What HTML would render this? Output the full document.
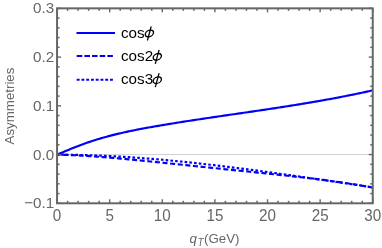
<!DOCTYPE html><html><head><meta charset="utf-8"><style>html,body{margin:0;padding:0;background:#fff;width:382px;height:248px;overflow:hidden}</style></head><body><svg width="382" height="248" viewBox="0 0 382 248" style="display:block;position:absolute;left:0;top:0;will-change:transform"><defs><clipPath id="c"><rect x="57.05" y="8.35" width="315.70" height="194.95"/></clipPath><g id="phi" fill="none" stroke="#000"><ellipse cx="0" cy="0" rx="3.95" ry="3.35" stroke-width="1.35" transform="skewX(-18)"/><line x1="1.8" y1="-7.0" x2="-2.0" y2="7.0" stroke-width="1.25"/></g></defs><rect width="382" height="248" fill="#fff"/><line x1="57.05" y1="154.56" x2="372.75" y2="154.56" stroke="#d0d0d0" stroke-width="1"/><g fill="none" stroke="#0000fa" stroke-width="2.15" clip-path="url(#c)"><path d="M57.05,154.64 L59.04,153.82 L61.02,153.00 L63.01,152.17 L64.99,151.33 L66.98,150.50 L68.96,149.67 L70.95,148.85 L72.93,148.04 L74.92,147.24 L76.91,146.45 L78.89,145.68 L80.88,144.93 L82.86,144.20 L84.85,143.49 L86.83,142.79 L88.82,142.11 L90.80,141.44 L92.79,140.80 L94.78,140.16 L96.76,139.55 L98.75,138.95 L100.73,138.36 L102.72,137.78 L104.70,137.22 L106.69,136.68 L108.67,136.14 L110.66,135.62 L112.64,135.11 L114.63,134.61 L116.62,134.13 L118.60,133.65 L120.59,133.18 L122.57,132.73 L124.56,132.28 L126.54,131.85 L128.53,131.42 L130.51,131.00 L132.50,130.59 L134.49,130.19 L136.47,129.79 L138.46,129.40 L140.44,129.02 L142.43,128.64 L144.41,128.27 L146.40,127.91 L148.38,127.55 L150.37,127.20 L152.36,126.85 L154.34,126.50 L156.33,126.16 L158.31,125.82 L160.30,125.48 L162.28,125.15 L164.27,124.82 L166.25,124.49 L168.24,124.16 L170.23,123.84 L172.21,123.52 L174.20,123.20 L176.18,122.88 L178.17,122.56 L180.15,122.25 L182.14,121.93 L184.12,121.62 L186.11,121.31 L188.10,121.01 L190.08,120.70 L192.07,120.40 L194.05,120.09 L196.04,119.79 L198.02,119.49 L200.01,119.19 L201.99,118.89 L203.98,118.60 L205.97,118.30 L207.95,118.01 L209.94,117.71 L211.92,117.42 L213.91,117.13 L215.89,116.84 L217.88,116.54 L219.86,116.25 L221.85,115.96 L223.83,115.67 L225.82,115.38 L227.81,115.10 L229.79,114.81 L231.78,114.52 L233.76,114.23 L235.75,113.94 L237.73,113.65 L239.72,113.36 L241.70,113.08 L243.69,112.79 L245.68,112.50 L247.66,112.21 L249.65,111.92 L251.63,111.63 L253.62,111.34 L255.60,111.04 L257.59,110.75 L259.57,110.46 L261.56,110.16 L263.55,109.87 L265.53,109.57 L267.52,109.28 L269.50,108.98 L271.49,108.68 L273.47,108.38 L275.46,108.08 L277.44,107.77 L279.43,107.47 L281.42,107.16 L283.40,106.85 L285.39,106.55 L287.37,106.23 L289.36,105.92 L291.34,105.61 L293.33,105.29 L295.31,104.97 L297.30,104.65 L299.29,104.33 L301.27,104.00 L303.26,103.68 L305.24,103.35 L307.23,103.02 L309.21,102.68 L311.20,102.35 L313.18,102.01 L315.17,101.67 L317.16,101.32 L319.14,100.97 L321.13,100.62 L323.11,100.27 L325.10,99.92 L327.08,99.56 L329.07,99.20 L331.05,98.83 L333.04,98.46 L335.02,98.09 L337.01,97.72 L339.00,97.34 L340.98,96.96 L342.97,96.57 L344.95,96.18 L346.94,95.79 L348.92,95.39 L350.91,94.99 L352.89,94.59 L354.88,94.18 L356.87,93.77 L358.85,93.35 L360.84,92.93 L362.82,92.51 L364.81,92.08 L366.79,91.64 L368.78,91.21 L370.76,90.77 L372.75,90.32"/><path d="M57.05,154.64 L59.04,154.69 L61.02,154.74 L63.01,154.80 L64.99,154.87 L66.98,154.94 L68.96,155.02 L70.95,155.10 L72.93,155.19 L74.92,155.29 L76.91,155.38 L78.89,155.49 L80.88,155.60 L82.86,155.71 L84.85,155.83 L86.83,155.95 L88.82,156.08 L90.80,156.21 L92.79,156.35 L94.78,156.49 L96.76,156.63 L98.75,156.78 L100.73,156.93 L102.72,157.08 L104.70,157.24 L106.69,157.39 L108.67,157.56 L110.66,157.72 L112.64,157.89 L114.63,158.06 L116.62,158.23 L118.60,158.41 L120.59,158.59 L122.57,158.77 L124.56,158.95 L126.54,159.13 L128.53,159.32 L130.51,159.51 L132.50,159.70 L134.49,159.89 L136.47,160.08 L138.46,160.27 L140.44,160.47 L142.43,160.67 L144.41,160.86 L146.40,161.06 L148.38,161.26 L150.37,161.46 L152.36,161.66 L154.34,161.87 L156.33,162.07 L158.31,162.27 L160.30,162.48 L162.28,162.68 L164.27,162.89 L166.25,163.10 L168.24,163.30 L170.23,163.51 L172.21,163.72 L174.20,163.92 L176.18,164.13 L178.17,164.34 L180.15,164.55 L182.14,164.76 L184.12,164.96 L186.11,165.17 L188.10,165.38 L190.08,165.59 L192.07,165.80 L194.05,166.00 L196.04,166.21 L198.02,166.42 L200.01,166.63 L201.99,166.84 L203.98,167.04 L205.97,167.25 L207.95,167.46 L209.94,167.66 L211.92,167.87 L213.91,168.08 L215.89,168.28 L217.88,168.49 L219.86,168.69 L221.85,168.90 L223.83,169.10 L225.82,169.31 L227.81,169.51 L229.79,169.72 L231.78,169.92 L233.76,170.13 L235.75,170.33 L237.73,170.53 L239.72,170.74 L241.70,170.94 L243.69,171.15 L245.68,171.35 L247.66,171.55 L249.65,171.76 L251.63,171.96 L253.62,172.17 L255.60,172.37 L257.59,172.58 L259.57,172.78 L261.56,172.99 L263.55,173.19 L265.53,173.40 L267.52,173.61 L269.50,173.81 L271.49,174.02 L273.47,174.23 L275.46,174.44 L277.44,174.65 L279.43,174.86 L281.42,175.08 L283.40,175.29 L285.39,175.50 L287.37,175.72 L289.36,175.94 L291.34,176.16 L293.33,176.38 L295.31,176.60 L297.30,176.82 L299.29,177.05 L301.27,177.27 L303.26,177.50 L305.24,177.73 L307.23,177.97 L309.21,178.20 L311.20,178.44 L313.18,178.68 L315.17,178.92 L317.16,179.17 L319.14,179.41 L321.13,179.66 L323.11,179.92 L325.10,180.18 L327.08,180.44 L329.07,180.70 L331.05,180.97 L333.04,181.24 L335.02,181.51 L337.01,181.79 L339.00,182.07 L340.98,182.36 L342.97,182.65 L344.95,182.94 L346.94,183.24 L348.92,183.55 L350.91,183.86 L352.89,184.17 L354.88,184.49 L356.87,184.82 L358.85,185.15 L360.84,185.48 L362.82,185.82 L364.81,186.17 L366.79,186.53 L368.78,186.89 L370.76,187.25 L372.75,187.63" stroke-dasharray="5 2.65" stroke-dashoffset="1.3"/><path d="M57.05,154.64 L59.04,154.65 L61.02,154.66 L63.01,154.67 L64.99,154.69 L66.98,154.71 L68.96,154.74 L70.95,154.76 L72.93,154.80 L74.92,154.83 L76.91,154.88 L78.89,154.92 L80.88,154.97 L82.86,155.02 L84.85,155.08 L86.83,155.13 L88.82,155.20 L90.80,155.26 L92.79,155.33 L94.78,155.41 L96.76,155.48 L98.75,155.56 L100.73,155.65 L102.72,155.73 L104.70,155.82 L106.69,155.92 L108.67,156.01 L110.66,156.11 L112.64,156.22 L114.63,156.33 L116.62,156.44 L118.60,156.55 L120.59,156.66 L122.57,156.78 L124.56,156.91 L126.54,157.03 L128.53,157.16 L130.51,157.29 L132.50,157.43 L134.49,157.56 L136.47,157.70 L138.46,157.85 L140.44,157.99 L142.43,158.14 L144.41,158.29 L146.40,158.45 L148.38,158.61 L150.37,158.77 L152.36,158.93 L154.34,159.09 L156.33,159.26 L158.31,159.43 L160.30,159.61 L162.28,159.78 L164.27,159.96 L166.25,160.14 L168.24,160.32 L170.23,160.51 L172.21,160.70 L174.20,160.89 L176.18,161.08 L178.17,161.28 L180.15,161.48 L182.14,161.68 L184.12,161.88 L186.11,162.08 L188.10,162.29 L190.08,162.50 L192.07,162.71 L194.05,162.92 L196.04,163.14 L198.02,163.35 L200.01,163.57 L201.99,163.79 L203.98,164.02 L205.97,164.24 L207.95,164.47 L209.94,164.70 L211.92,164.93 L213.91,165.16 L215.89,165.40 L217.88,165.63 L219.86,165.87 L221.85,166.11 L223.83,166.35 L225.82,166.60 L227.81,166.84 L229.79,167.09 L231.78,167.34 L233.76,167.58 L235.75,167.84 L237.73,168.09 L239.72,168.34 L241.70,168.60 L243.69,168.86 L245.68,169.11 L247.66,169.37 L249.65,169.64 L251.63,169.90 L253.62,170.16 L255.60,170.43 L257.59,170.69 L259.57,170.96 L261.56,171.23 L263.55,171.50 L265.53,171.77 L267.52,172.04 L269.50,172.31 L271.49,172.59 L273.47,172.86 L275.46,173.14 L277.44,173.42 L279.43,173.70 L281.42,173.97 L283.40,174.25 L285.39,174.54 L287.37,174.82 L289.36,175.10 L291.34,175.38 L293.33,175.67 L295.31,175.95 L297.30,176.24 L299.29,176.52 L301.27,176.81 L303.26,177.09 L305.24,177.38 L307.23,177.67 L309.21,177.96 L311.20,178.25 L313.18,178.54 L315.17,178.83 L317.16,179.12 L319.14,179.41 L321.13,179.70 L323.11,179.99 L325.10,180.28 L327.08,180.58 L329.07,180.87 L331.05,181.16 L333.04,181.45 L335.02,181.75 L337.01,182.04 L339.00,182.33 L340.98,182.63 L342.97,182.92 L344.95,183.21 L346.94,183.51 L348.92,183.80 L350.91,184.09 L352.89,184.39 L354.88,184.68 L356.87,184.97 L358.85,185.26 L360.84,185.56 L362.82,185.85 L364.81,186.14 L366.79,186.43 L368.78,186.72 L370.76,187.02 L372.75,187.31" stroke-dasharray="2.6 2.156" stroke-dashoffset="0.6"/></g><g stroke="#666" fill="none"><line x1="57.05" y1="203.30" x2="57.05" y2="199.30" stroke-width="1.4"/><line x1="57.05" y1="8.35" x2="57.05" y2="12.35" stroke-width="1.4"/><line x1="67.57" y1="203.30" x2="67.57" y2="200.80" stroke-width="1.5"/><line x1="67.57" y1="8.35" x2="67.57" y2="10.85" stroke-width="1.5"/><line x1="78.10" y1="203.30" x2="78.10" y2="200.80" stroke-width="1.5"/><line x1="78.10" y1="8.35" x2="78.10" y2="10.85" stroke-width="1.5"/><line x1="88.62" y1="203.30" x2="88.62" y2="200.80" stroke-width="1.5"/><line x1="88.62" y1="8.35" x2="88.62" y2="10.85" stroke-width="1.5"/><line x1="99.14" y1="203.30" x2="99.14" y2="200.80" stroke-width="1.5"/><line x1="99.14" y1="8.35" x2="99.14" y2="10.85" stroke-width="1.5"/><line x1="109.67" y1="203.30" x2="109.67" y2="199.30" stroke-width="1.4"/><line x1="109.67" y1="8.35" x2="109.67" y2="12.35" stroke-width="1.4"/><line x1="120.19" y1="203.30" x2="120.19" y2="200.80" stroke-width="1.5"/><line x1="120.19" y1="8.35" x2="120.19" y2="10.85" stroke-width="1.5"/><line x1="130.71" y1="203.30" x2="130.71" y2="200.80" stroke-width="1.5"/><line x1="130.71" y1="8.35" x2="130.71" y2="10.85" stroke-width="1.5"/><line x1="141.24" y1="203.30" x2="141.24" y2="200.80" stroke-width="1.5"/><line x1="141.24" y1="8.35" x2="141.24" y2="10.85" stroke-width="1.5"/><line x1="151.76" y1="203.30" x2="151.76" y2="200.80" stroke-width="1.5"/><line x1="151.76" y1="8.35" x2="151.76" y2="10.85" stroke-width="1.5"/><line x1="162.28" y1="203.30" x2="162.28" y2="199.30" stroke-width="1.4"/><line x1="162.28" y1="8.35" x2="162.28" y2="12.35" stroke-width="1.4"/><line x1="172.81" y1="203.30" x2="172.81" y2="200.80" stroke-width="1.5"/><line x1="172.81" y1="8.35" x2="172.81" y2="10.85" stroke-width="1.5"/><line x1="183.33" y1="203.30" x2="183.33" y2="200.80" stroke-width="1.5"/><line x1="183.33" y1="8.35" x2="183.33" y2="10.85" stroke-width="1.5"/><line x1="193.85" y1="203.30" x2="193.85" y2="200.80" stroke-width="1.5"/><line x1="193.85" y1="8.35" x2="193.85" y2="10.85" stroke-width="1.5"/><line x1="204.38" y1="203.30" x2="204.38" y2="200.80" stroke-width="1.5"/><line x1="204.38" y1="8.35" x2="204.38" y2="10.85" stroke-width="1.5"/><line x1="214.90" y1="203.30" x2="214.90" y2="199.30" stroke-width="1.4"/><line x1="214.90" y1="8.35" x2="214.90" y2="12.35" stroke-width="1.4"/><line x1="225.42" y1="203.30" x2="225.42" y2="200.80" stroke-width="1.5"/><line x1="225.42" y1="8.35" x2="225.42" y2="10.85" stroke-width="1.5"/><line x1="235.95" y1="203.30" x2="235.95" y2="200.80" stroke-width="1.5"/><line x1="235.95" y1="8.35" x2="235.95" y2="10.85" stroke-width="1.5"/><line x1="246.47" y1="203.30" x2="246.47" y2="200.80" stroke-width="1.5"/><line x1="246.47" y1="8.35" x2="246.47" y2="10.85" stroke-width="1.5"/><line x1="256.99" y1="203.30" x2="256.99" y2="200.80" stroke-width="1.5"/><line x1="256.99" y1="8.35" x2="256.99" y2="10.85" stroke-width="1.5"/><line x1="267.52" y1="203.30" x2="267.52" y2="199.30" stroke-width="1.4"/><line x1="267.52" y1="8.35" x2="267.52" y2="12.35" stroke-width="1.4"/><line x1="278.04" y1="203.30" x2="278.04" y2="200.80" stroke-width="1.5"/><line x1="278.04" y1="8.35" x2="278.04" y2="10.85" stroke-width="1.5"/><line x1="288.56" y1="203.30" x2="288.56" y2="200.80" stroke-width="1.5"/><line x1="288.56" y1="8.35" x2="288.56" y2="10.85" stroke-width="1.5"/><line x1="299.09" y1="203.30" x2="299.09" y2="200.80" stroke-width="1.5"/><line x1="299.09" y1="8.35" x2="299.09" y2="10.85" stroke-width="1.5"/><line x1="309.61" y1="203.30" x2="309.61" y2="200.80" stroke-width="1.5"/><line x1="309.61" y1="8.35" x2="309.61" y2="10.85" stroke-width="1.5"/><line x1="320.13" y1="203.30" x2="320.13" y2="199.30" stroke-width="1.4"/><line x1="320.13" y1="8.35" x2="320.13" y2="12.35" stroke-width="1.4"/><line x1="330.66" y1="203.30" x2="330.66" y2="200.80" stroke-width="1.5"/><line x1="330.66" y1="8.35" x2="330.66" y2="10.85" stroke-width="1.5"/><line x1="341.18" y1="203.30" x2="341.18" y2="200.80" stroke-width="1.5"/><line x1="341.18" y1="8.35" x2="341.18" y2="10.85" stroke-width="1.5"/><line x1="351.70" y1="203.30" x2="351.70" y2="200.80" stroke-width="1.5"/><line x1="351.70" y1="8.35" x2="351.70" y2="10.85" stroke-width="1.5"/><line x1="362.23" y1="203.30" x2="362.23" y2="200.80" stroke-width="1.5"/><line x1="362.23" y1="8.35" x2="362.23" y2="10.85" stroke-width="1.5"/><line x1="372.75" y1="203.30" x2="372.75" y2="199.30" stroke-width="1.4"/><line x1="372.75" y1="8.35" x2="372.75" y2="12.35" stroke-width="1.4"/><line x1="57.05" y1="203.30" x2="61.05" y2="203.30" stroke-width="1.4"/><line x1="372.75" y1="203.30" x2="368.75" y2="203.30" stroke-width="1.4"/><line x1="57.05" y1="193.55" x2="59.55" y2="193.55" stroke-width="1.5"/><line x1="372.75" y1="193.55" x2="370.25" y2="193.55" stroke-width="1.5"/><line x1="57.05" y1="183.81" x2="59.55" y2="183.81" stroke-width="1.5"/><line x1="372.75" y1="183.81" x2="370.25" y2="183.81" stroke-width="1.5"/><line x1="57.05" y1="174.06" x2="59.55" y2="174.06" stroke-width="1.5"/><line x1="372.75" y1="174.06" x2="370.25" y2="174.06" stroke-width="1.5"/><line x1="57.05" y1="164.31" x2="59.55" y2="164.31" stroke-width="1.5"/><line x1="372.75" y1="164.31" x2="370.25" y2="164.31" stroke-width="1.5"/><line x1="57.05" y1="154.56" x2="61.05" y2="154.56" stroke-width="1.4"/><line x1="372.75" y1="154.56" x2="368.75" y2="154.56" stroke-width="1.4"/><line x1="57.05" y1="144.81" x2="59.55" y2="144.81" stroke-width="1.5"/><line x1="372.75" y1="144.81" x2="370.25" y2="144.81" stroke-width="1.5"/><line x1="57.05" y1="135.07" x2="59.55" y2="135.07" stroke-width="1.5"/><line x1="372.75" y1="135.07" x2="370.25" y2="135.07" stroke-width="1.5"/><line x1="57.05" y1="125.32" x2="59.55" y2="125.32" stroke-width="1.5"/><line x1="372.75" y1="125.32" x2="370.25" y2="125.32" stroke-width="1.5"/><line x1="57.05" y1="115.57" x2="59.55" y2="115.57" stroke-width="1.5"/><line x1="372.75" y1="115.57" x2="370.25" y2="115.57" stroke-width="1.5"/><line x1="57.05" y1="105.83" x2="61.05" y2="105.83" stroke-width="1.4"/><line x1="372.75" y1="105.83" x2="368.75" y2="105.83" stroke-width="1.4"/><line x1="57.05" y1="96.08" x2="59.55" y2="96.08" stroke-width="1.5"/><line x1="372.75" y1="96.08" x2="370.25" y2="96.08" stroke-width="1.5"/><line x1="57.05" y1="86.33" x2="59.55" y2="86.33" stroke-width="1.5"/><line x1="372.75" y1="86.33" x2="370.25" y2="86.33" stroke-width="1.5"/><line x1="57.05" y1="76.58" x2="59.55" y2="76.58" stroke-width="1.5"/><line x1="372.75" y1="76.58" x2="370.25" y2="76.58" stroke-width="1.5"/><line x1="57.05" y1="66.84" x2="59.55" y2="66.84" stroke-width="1.5"/><line x1="372.75" y1="66.84" x2="370.25" y2="66.84" stroke-width="1.5"/><line x1="57.05" y1="57.09" x2="61.05" y2="57.09" stroke-width="1.4"/><line x1="372.75" y1="57.09" x2="368.75" y2="57.09" stroke-width="1.4"/><line x1="57.05" y1="47.34" x2="59.55" y2="47.34" stroke-width="1.5"/><line x1="372.75" y1="47.34" x2="370.25" y2="47.34" stroke-width="1.5"/><line x1="57.05" y1="37.59" x2="59.55" y2="37.59" stroke-width="1.5"/><line x1="372.75" y1="37.59" x2="370.25" y2="37.59" stroke-width="1.5"/><line x1="57.05" y1="27.84" x2="59.55" y2="27.84" stroke-width="1.5"/><line x1="372.75" y1="27.84" x2="370.25" y2="27.84" stroke-width="1.5"/><line x1="57.05" y1="18.10" x2="59.55" y2="18.10" stroke-width="1.5"/><line x1="372.75" y1="18.10" x2="370.25" y2="18.10" stroke-width="1.5"/><line x1="57.05" y1="8.35" x2="61.05" y2="8.35" stroke-width="1.4"/><line x1="372.75" y1="8.35" x2="368.75" y2="8.35" stroke-width="1.4"/></g><rect x="57.05" y="8.35" width="315.70" height="194.95" fill="none" stroke="#666" stroke-width="2"/><g font-family="Liberation Sans, sans-serif" font-size="15.2" fill="#666"><text transform="translate(57.05,220.60) scale(1,1.040)" text-anchor="middle">0</text><text transform="translate(109.67,220.60) scale(1,1.040)" text-anchor="middle">5</text><text transform="translate(162.28,220.60) scale(1,1.040)" text-anchor="middle">10</text><text transform="translate(214.90,220.60) scale(1,1.040)" text-anchor="middle">15</text><text transform="translate(267.52,220.60) scale(1,1.040)" text-anchor="middle">20</text><text transform="translate(320.13,220.60) scale(1,1.040)" text-anchor="middle">25</text><text transform="translate(372.75,220.60) scale(1,1.040)" text-anchor="middle">30</text><text transform="translate(54.20,208.30) scale(1,1.000)" text-anchor="end">−0.1</text><text transform="translate(54.20,159.56) scale(1,1.000)" text-anchor="end">0.0</text><text transform="translate(54.20,110.82) scale(1,1.000)" text-anchor="end">0.1</text><text transform="translate(54.20,62.09) scale(1,1.000)" text-anchor="end">0.2</text><text transform="translate(54.20,13.35) scale(1,1.000)" text-anchor="end">0.3</text></g><text font-family="Liberation Sans, sans-serif" font-size="13.3" fill="#666" text-anchor="middle" transform="translate(14.3,106.0) rotate(-90)">Asymmetries</text><text font-family="Liberation Sans, sans-serif" font-size="13.3" fill="#666" x="189.6" y="243.4"><tspan font-style="italic">q</tspan><tspan font-style="italic" font-size="10" dy="2.9" dx="0.6">T</tspan><tspan dy="-2.9" dx="0.3">(GeV)</tspan></text><g fill="none" stroke="#0000fa" stroke-width="2"><line x1="76.5" y1="32.9" x2="115.0" y2="32.9"/><line x1="76.7" y1="56.1" x2="115" y2="56.1" stroke-dasharray="5.6 2.05"/><line x1="76.7" y1="79.75" x2="113.5" y2="79.75" stroke-dasharray="2.9 1.856"/></g><g font-family="Liberation Sans, sans-serif" font-size="15.2" fill="#000"><text x="121.0" y="37.70">cos</text><use href="#phi" x="149.40" y="33.50"/><text x="121.0" y="61.05">cos2</text><use href="#phi" x="157.30" y="56.85"/><text x="121.0" y="84.40">cos3</text><use href="#phi" x="157.30" y="80.20"/></g></svg></body></html>
